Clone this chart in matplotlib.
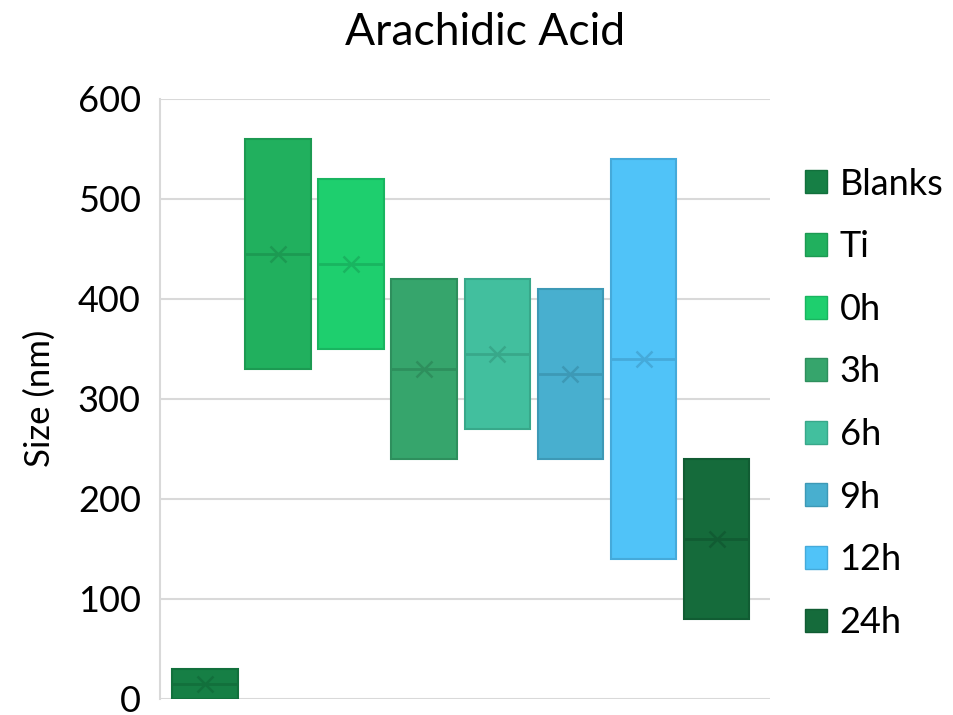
import numpy as np
import matplotlib.pyplot as plt
from matplotlib.patches import Patch

plt.rcParams['font.family'] = ['Lato', 'DejaVu Sans']

groups = ["Blanks", "Ti", "0h", "3h", "6h", "9h", "12h", "24h"]
lows = [0, 330, 350, 240, 270, 240, 140, 80]
highs = [30, 560, 520, 420, 420, 410, 540, 240]
medians = [15, 445, 435, 330, 345, 325, 340, 160]
means = [15, 445, 435, 330, 345, 325, 340, 160]

face_colors = ["#167F45", "#21B05E", "#1ECF6E", "#36A56C",
               "#42BF9E", "#48AFCF", "#50C3F8", "#156B3B"]
edge_colors = ["#12703C", "#1C9A52", "#19B560", "#2E8F5D",
               "#38A88A", "#3D99B6", "#45AADA", "#115C33"]

fig = plt.figure(figsize=(9.54, 7.15), dpi=100)
ax = fig.add_axes([0.168, 0.023, 0.639, 0.839])

x = np.arange(len(groups))
width = 0.9
for i in range(len(groups)):
    ax.bar(x[i], highs[i] - lows[i], bottom=lows[i], width=width,
           color=face_colors[i], edgecolor=edge_colors[i], linewidth=1.5,
           zorder=3)
    ax.hlines(medians[i], x[i] - width / 2, x[i] + width / 2,
              color=edge_colors[i], linewidth=2, zorder=4)
    ax.plot(x[i], means[i], marker='x', markersize=12, markeredgewidth=1.8,
            color=edge_colors[i], zorder=5)

ax.set_xlim(-0.615, len(groups) - 1 + 0.73)
ax.set_ylim(0, 600)
ax.set_yticks(range(0, 601, 100))
ax.set_xticks([])
ax.tick_params(axis='y', length=0, labelsize=26, pad=14)
ax.yaxis.grid(True, color='#D9D9D9', linewidth=1.5, zorder=0)
ax.set_axisbelow(True)
for side in ['top', 'right', 'bottom']:
    ax.spines[side].set_visible(False)
ax.spines['left'].set_color('#D9D9D9')
ax.spines['left'].set_linewidth(1.5)

ax.set_ylabel("Size (nm)", fontsize=25)
ax.yaxis.set_label_coords(-0.172, 0.5)
fig.text(0.508, 0.954, "Arachidic Acid", fontsize=32, ha='center', va='center')

handles = [Patch(facecolor=face_colors[i], edgecolor=edge_colors[i],
                 label=groups[i]) for i in range(len(groups))]
fig.legend(handles=handles, loc='upper left', bbox_to_anchor=(0.810, 0.811),
           frameon=False, fontsize=26, handlelength=0.6, handleheight=0.6,
           handletextpad=0.35, labelspacing=0.82)

fig.savefig("out.png", dpi=100)
